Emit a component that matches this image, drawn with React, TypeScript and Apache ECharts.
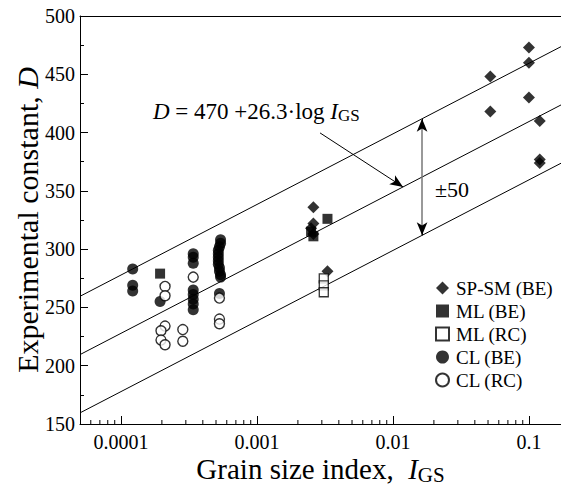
import React, { useEffect, useRef } from 'react';
import * as echarts from 'echarts';

const FONT = 'Liberation Serif, serif';

// x = grain size index I_GS, y = experimental constant D
const spsmBE: [number, number][] = [
  [0.0026, 336], [0.0026, 322], [0.0025, 318], [0.0026, 313],
  [0.0033, 281],
  [0.052, 448], [0.052, 418],
  [0.1, 473], [0.1, 460], [0.1, 430],
  [0.12, 410], [0.12, 377], [0.12, 374],
];
const mlBE: [number, number][] = [
  [0.000194, 279], [0.0025, 315], [0.0026, 311], [0.0033, 326],
];
const mlRC: [number, number][] = [
  [0.0031, 275], [0.0031, 269], [0.0031, 263],
];
const clBE: [number, number][] = [
  [0.000122, 283], [0.000122, 269], [0.000122, 264],
  [0.000194, 255],
  [0.00034, 296], [0.00034, 293], [0.00034, 288],
  [0.00034, 265], [0.00034, 261], [0.00034, 257], [0.00034, 253], [0.00034, 248],
  [0.00054, 308], [0.00054, 305], [0.00053, 302], [0.00052, 299], [0.00052, 296],
  [0.00052, 293], [0.00052, 290], [0.00052, 287], [0.00053, 284], [0.00053, 281],
  [0.00054, 278], [0.00054, 276],
  [0.00053, 262],
];
const clRC: [number, number][] = [
  [0.000211, 268], [0.000211, 260],
  [0.000211, 234], [0.000197, 230], [0.000197, 222], [0.000211, 218],
  [0.000285, 231], [0.000285, 221],
  [0.00034, 276],
  [0.00053, 258], [0.00053, 240], [0.00053, 236],
];

const xTickLabels = ['0.0001', '0.001', '0.01', '0.1'];
const yTicks = [150, 200, 250, 300, 350, 400, 450, 500];
const legendNames = ['SP-SM (BE)', 'ML (BE)', 'ML (RC)', 'CL (BE)', 'CL (RC)'];

// fitted relation shown in the chart: D = 470 + 26.3·ln(I_GS), band ±50
const fitA = 470;
const fitB = 26.3;
const band = 50;
const X_MIN = 5e-5;
const X_MAX = 0.172;
const lineX = [X_MIN, X_MAX];

// annotation anchors (data coordinates)
const eqArrowFrom: [number, number] = [0.00291, 399.7];
const eqArrowToX = 0.01186;
const bandArrowX = 0.01637;

const fit = (x: number, off: number) => fitA + fitB * Math.log(x) + off;

const minorTicks: number[] = [];
for (let e = -5; e <= -1; e++) {
  for (let m = 2; m <= 9; m++) {
    const v = Number((m * Math.pow(10, e)).toPrecision(3));
    if (v > X_MIN * 1.001 && v < X_MAX) minorTicks.push(v);
  }
}

function buildOption() {
  const bandTop = fit(bandArrowX, band);
  const bandBot = fit(bandArrowX, -band);
  const lineSeries = (off: number, extra: any = {}) => ({
    type: 'line',
    data: lineX.map((x) => [x, fit(x, off)]),
    symbol: 'none',
    lineStyle: { color: '#000', width: 1 },
    silent: true,
    z: 1,
    ...extra,
  });
  return {
    animation: false,
    textStyle: { fontFamily: FONT },
    grid: { left: 80, right: 0, top: 16, bottom: 67, containLabel: false, outerBoundsMode: 'none' },
    xAxis: [
      {
        type: 'log',
        logBase: 10,
        min: X_MIN,
        max: X_MAX,
        name: 'Grain size index,  {i|I}{s|GS}',
        nameLocation: 'middle',
        nameGap: 29,
        nameMoveOverlap: false,
        nameTextStyle: {
          fontFamily: FONT, fontSize: 29, color: '#000', lineHeight: 32,
          rich: {
            i: { fontFamily: FONT, fontSize: 29, fontStyle: 'italic', color: '#000', lineHeight: 32 },
            s: { fontFamily: FONT, fontSize: 21, color: '#000', verticalAlign: 'bottom', lineHeight: 15 },
          },
        },
        axisLine: { show: true, lineStyle: { color: '#000', width: 1 } },
        axisTick: { show: true, inside: true, length: 8, lineStyle: { color: '#000' } },
        minorTick: { show: false },
        splitLine: { show: false },
        axisLabel: {
          fontFamily: FONT, fontSize: 20, color: '#000', margin: 8,
          showMinLabel: true, showMaxLabel: true,
          formatter: (v: number) => {
            const l = Math.log10(v);
            if (Math.abs(l - Math.round(l)) > 1e-6) return '';
            const s = String(Number(v.toPrecision(3)));
            return xTickLabels.includes(s) ? s : '';
          },
        },
      },
      {
        type: 'log',
        logBase: 10,
        min: X_MIN,
        max: X_MAX,
        position: 'top',
        axisLine: { show: true, lineStyle: { color: '#000', width: 1 } },
        axisTick: { show: false },
        axisLabel: { show: false },
        splitLine: { show: false },
      },
    ],
    yAxis: {
      type: 'value',
      min: yTicks[0],
      max: yTicks[yTicks.length - 1],
      interval: 50,
      name: 'Experimental constant, {i|D}',
      nameLocation: 'middle',
      nameGap: 38,
      nameRotate: 90,
      nameMoveOverlap: false,
      nameTextStyle: {
        fontFamily: FONT, fontSize: 30, color: '#000',
        rich: { i: { fontFamily: FONT, fontSize: 30, fontStyle: 'italic', color: '#000' } },
      },
      axisLine: { show: true, lineStyle: { color: '#000', width: 1 } },
      axisTick: { show: true, inside: true, length: 8, lineStyle: { color: '#000' } },
      minorTick: { show: true, splitNumber: 2, length: 4, lineStyle: { color: '#000' } },
      splitLine: { show: false },
      axisLabel: { fontFamily: FONT, fontSize: 20, color: '#000', margin: 5 },
    },
    legend: {
      data: legendNames,
      orient: 'vertical',
      left: 430,
      top: 273,
      itemWidth: 13,
      itemHeight: 13,
      itemGap: 3,
      selectedMode: false,
      textStyle: { fontFamily: FONT, fontSize: 19, color: '#000', lineHeight: 20, padding: [0, 0, 0, 2] },
    },
    graphic: [
      {
        type: 'text',
        left: 153,
        top: 98,
        style: {
          text: '{i|D} = 470 +26.3·log {i|I}{s|GS}',
          fontFamily: FONT,
          fontSize: 23,
          fill: '#000',
          lineHeight: 26,
          rich: {
            i: { fontFamily: FONT, fontSize: 23, fontStyle: 'italic', fill: '#000', lineHeight: 26 },
            s: { fontFamily: FONT, fontSize: 17, fill: '#000', verticalAlign: 'bottom', lineHeight: 12 },
          },
        },
        z: 100,
      },
      {
        type: 'text',
        left: 435,
        top: 178,
        style: { text: '±50', fontFamily: FONT, fontSize: 22, fill: '#000' },
        z: 100,
      },
    ],
    series: [
      lineSeries(band),
      lineSeries(0, {
        markLine: {
          silent: true,
          animation: false,
          label: { show: false },
          symbolSize: [8, 13],
          data: [
            [
              { coord: eqArrowFrom, symbol: 'none', lineStyle: { color: '#000', width: 1, type: 'solid' } },
              { coord: [eqArrowToX, fit(eqArrowToX, 0)], symbol: 'arrow' },
            ],
            [
              { coord: [bandArrowX, bandTop], symbol: 'none', lineStyle: { color: '#777', width: 1.5, type: 'solid' } },
              { coord: [bandArrowX, bandBot], symbol: 'none' },
            ],
            [
              { coord: [bandArrowX, bandTop - 8], symbol: 'none', lineStyle: { color: '#000', width: 1, type: 'solid' } },
              { coord: [bandArrowX, bandTop], symbol: 'arrow' },
            ],
            [
              { coord: [bandArrowX, bandBot + 8], symbol: 'none', lineStyle: { color: '#000', width: 1, type: 'solid' } },
              { coord: [bandArrowX, bandBot], symbol: 'arrow' },
            ],
          ],
        },
      }),
      lineSeries(-band),
      {
        type: 'custom',
        silent: true,
        clip: false,
        z: 5,
        data: minorTicks.map((v) => [v, yTicks[0]]),
        renderItem: (params: any, api: any) => {
          const p = api.coord([api.value(0), api.value(1)]);
          return {
            type: 'line',
            shape: { x1: p[0], y1: p[1], x2: p[0], y2: p[1] - 4 },
            style: { stroke: '#000', lineWidth: 1 },
          };
        },
      },
      {
        name: legendNames[0], type: 'scatter', data: spsmBE, symbol: 'diamond', symbolSize: 12,
        itemStyle: { color: '#000' }, z: 10,
      },
      {
        name: legendNames[1], type: 'scatter', data: mlBE, symbol: 'rect', symbolSize: 10,
        itemStyle: { color: '#000' }, z: 10,
      },
      {
        name: legendNames[2], type: 'scatter', data: mlRC, symbol: 'rect', symbolSize: 9,
        itemStyle: { color: '#fff', borderColor: '#000', borderWidth: 1.3 }, z: 10,
      },
      {
        name: legendNames[3], type: 'scatter', data: clBE, symbol: 'circle', symbolSize: 11,
        itemStyle: { color: '#000' }, z: 10,
      },
      {
        name: legendNames[4], type: 'scatter', data: clRC, symbol: 'circle', symbolSize: 10,
        itemStyle: { color: '#fff', borderColor: '#000', borderWidth: 1.4 }, z: 11,
      },
    ],
  };
}

export default function App() {
  const ref = useRef<HTMLDivElement>(null);
  useEffect(() => {
    if (!ref.current) return;
    const chart = echarts.init(ref.current, null, { renderer: 'svg' });
    chart.setOption(buildOption() as any);
    return () => chart.dispose();
  }, []);
  return (
    <div
      ref={ref}
      style={{ position: 'fixed', left: 0, top: 0, width: 561, height: 491, background: '#fff' }}
    />
  );
}
